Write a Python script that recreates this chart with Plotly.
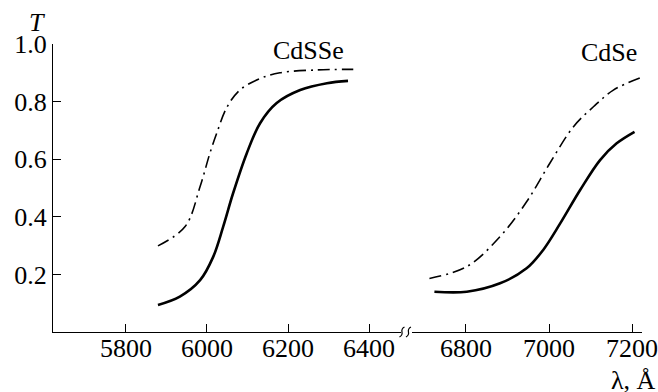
import plotly.graph_objects as go

# CdSSe curves (left panel)
cdsse_lam_dd = [5879, 5946, 5983, 6007, 6024, 6049, 6081, 6131, 6180, 6271, 6361]
cdsse_T_dd = [0.299, 0.366, 0.505, 0.62, 0.69, 0.78, 0.84, 0.88, 0.90, 0.91, 0.912]
cdsse_lam_s = [5879, 5933, 5983, 6015, 6040, 6064, 6098, 6131, 6172, 6230, 6296, 6348]
cdsse_T_s = [0.094, 0.123, 0.18, 0.26, 0.366, 0.48, 0.62, 0.725, 0.795, 0.84, 0.864, 0.872]

# CdSe curves (right panel)
cdse_lam_dd = [6712, 6802, 6882, 6946, 7002, 7059, 7107, 7155, 7221]
cdse_T_dd = [0.186, 0.227, 0.331, 0.452, 0.586, 0.713, 0.782, 0.84, 0.883]
cdse_lam_s = [6724, 6802, 6882, 6946, 6986, 7027, 7075, 7123, 7163, 7206]
cdse_T_s = [0.14, 0.14, 0.169, 0.221, 0.285, 0.377, 0.493, 0.597, 0.655, 0.695]

left_ticks = [5800, 6000, 6200, 6400]
right_ticks = [6800, 7000, 7200]
y_ticks = [0.2, 0.4, 0.6, 0.8, 1.0]

FONT = "Liberation Serif, Times New Roman, DejaVu Serif, serif"
FS = 26
dd = "12px,5px,2px,5px"

fig = go.Figure()
fig.add_trace(go.Scatter(x=cdsse_lam_dd, y=cdsse_T_dd, mode="lines", line=dict(color="black", width=1.6, dash=dd, shape="spline"), xaxis="x", yaxis="y"))
fig.add_trace(go.Scatter(x=cdsse_lam_s, y=cdsse_T_s, mode="lines", line=dict(color="black", width=2.6, shape="spline"), xaxis="x", yaxis="y"))
fig.add_trace(go.Scatter(x=cdse_lam_dd, y=cdse_T_dd, mode="lines", line=dict(color="black", width=1.6, dash=dd, shape="spline"), xaxis="x2", yaxis="y"))
fig.add_trace(go.Scatter(x=cdse_lam_s, y=cdse_T_s, mode="lines", line=dict(color="black", width=2.6, shape="spline"), xaxis="x2", yaxis="y"))

axis_common = dict(showline=True, linecolor="black", linewidth=1.3, ticks="inside", ticklen=8,
                   tickcolor="black", tickwidth=1.3, showgrid=False, zeroline=False, automargin=False,
                   ticklabeloverflow="allow",
                   tickfont=dict(family=FONT, size=FS, color="black"))

fig.update_layout(
    width=658, height=392,
    margin=dict(l=53, r=16, t=44, b=60),
    paper_bgcolor="white", plot_bgcolor="white",
    showlegend=False,
    font=dict(family=FONT, size=FS, color="black"),
    xaxis=dict(domain=[0, 0.591], range=[5620, 6479], tickvals=left_ticks, anchor="y",
               ticklabelstandoff=-7, **axis_common),
    xaxis2=dict(domain=[0.6095, 1], range=[6670, 7224], tickvals=right_ticks, anchor="y",
                ticklabelstandoff=-7, **axis_common),
    yaxis=dict(range=[0, 1.0], tickvals=y_ticks, tickformat=".1f", anchor="x", **axis_common),
)

# axis break marks
for px in [0.5925, 0.6035]:
    w = 2.5 / 589
    h = 5 / 288
    path = f"M {px - w},{-h} C {px + w * 1.6},{-h * 0.3} {px - w * 1.6},{h * 0.3} {px + w},{h}"
    fig.add_shape(type="path", path=path, xref="paper", yref="paper", line=dict(color="black", width=1.2))

ann = dict(font=dict(family=FONT, size=FS, color="black"), showarrow=False, xref="paper", yref="paper",
           xanchor="center", yanchor="middle")
fig.add_annotation(text="<i>T</i>", x=-0.027, y=1.076, **ann)
fig.add_annotation(text="CdSSe", x=0.433, y=0.979, **ann)
fig.add_annotation(text="CdSe", x=0.944, y=0.972, **ann)
fig.add_annotation(text="λ, Å", x=0.986, y=-0.170, **ann)

fig.write_html("out.html", config={"displayModeBar": False},
               post_script="document.body.style.margin='0';document.body.style.overflow='hidden';")
